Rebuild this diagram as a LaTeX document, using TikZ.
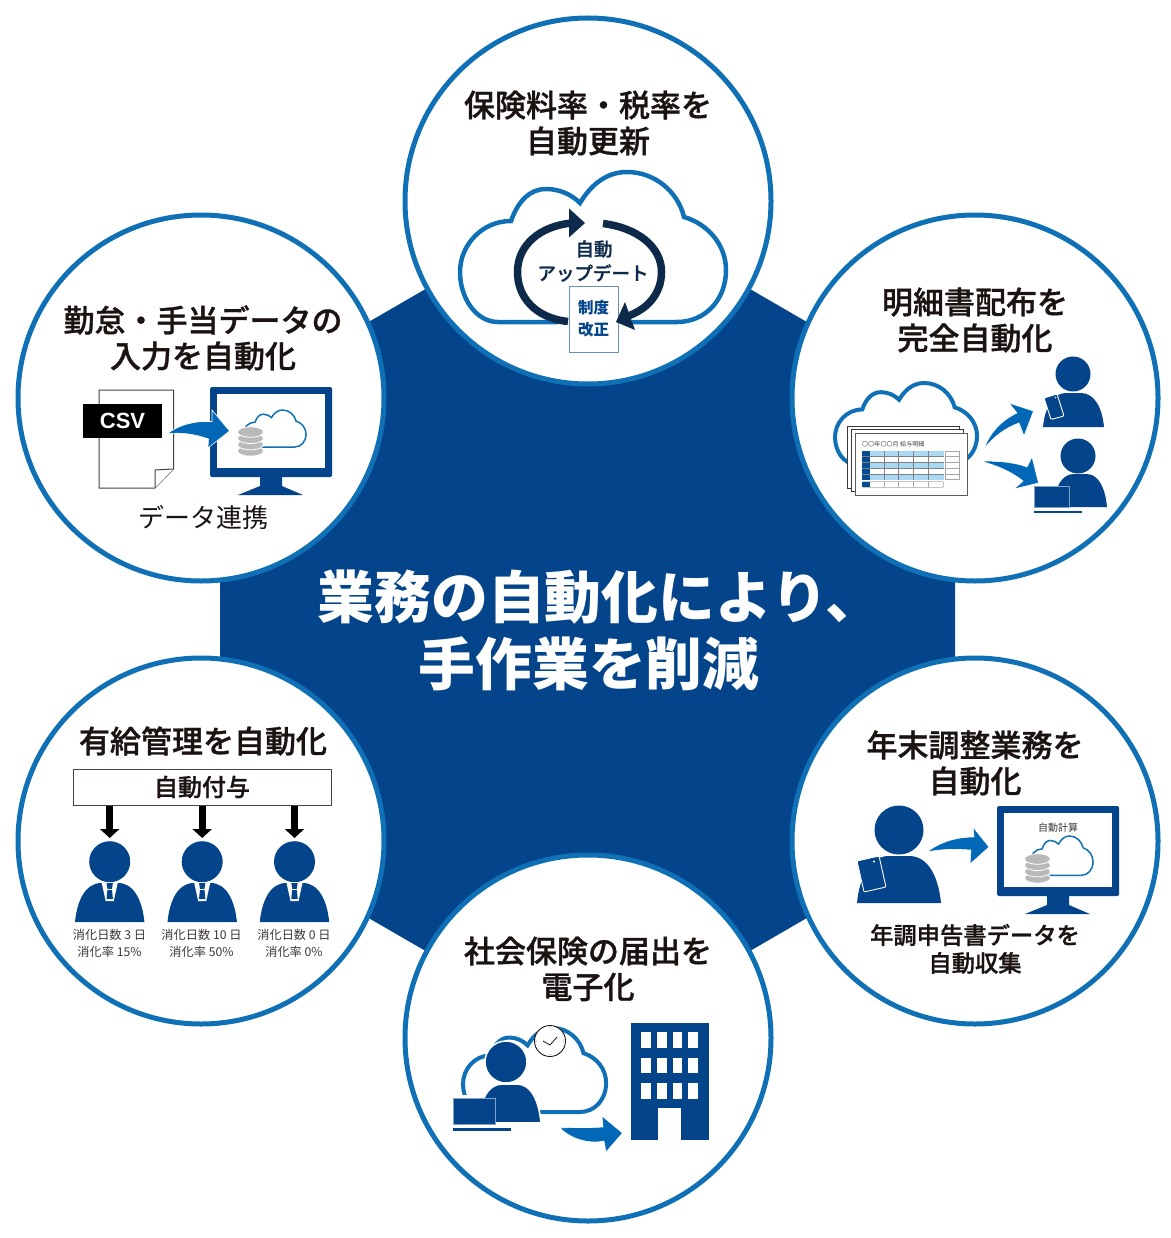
\documentclass[tikz,border=0pt]{standalone}
\usepackage{fontspec}
\setmainfont{Noto Sans CJK JP}
\newfontfamily\jpm[FakeBold=1]{Noto Sans CJK JP Medium}
\newfontfamily\csvfont{Liberation Sans}
\usetikzlibrary{arrows.meta}
\definecolor{hexblue}{HTML}{03448A}
\definecolor{ringblue}{HTML}{1070B6}
\definecolor{swblue}{HTML}{0068B7}
\definecolor{navy}{HTML}{0D2A4A}
\definecolor{ink}{HTML}{1A1311}
\definecolor{dbgray}{HTML}{B9B9B9}
\definecolor{lightcell}{HTML}{A9D9F5}
\newcommand\fs[1]{\fontsize{#1}{#1}\selectfont}
\tikzset{
  x=1pt,y=-1pt,
  ringc/.style={circle,draw=ringblue,line width=5pt,fill=white,minimum size=366pt,inner sep=0pt},
  title/.style={text=ink,align=center,font=\fs{31}\jpm,inner sep=0pt},
  hero/.style={text=white,align=center,font=\fs{56.8}\bfseries,inner sep=0pt},
  small/.style={text=ink!85,align=center,inner sep=0pt,font=\fs{12.2}},
  cloudline/.style={draw=ringblue,fill=white},
  swoosh/.style={fill=swblue,draw=white,line width=0.6pt,line join=miter},
  solidblue/.style={fill=hexblue,draw=none},
  halo/.style={fill=hexblue,draw=white,line width=1.6pt},
  phone/.style={fill=hexblue,draw=white,line width=0.9pt,rounded corners=1pt},
  downarrow/.style={draw=black,line width=7pt,-{Triangle[length=9pt,width=19pt]}},
}
% cloud: reference frame 266 x 150
\newcommand\cloudpath{(38,150) .. controls (16,150) and (0,126) .. (0,100) .. controls (0,73) and (22,49) .. (51,49) .. controls (58,29) and (70,17) .. (86,17) .. controls (100,17) and (112,23) .. (120,31) .. controls (132,11) and (148,0) .. (167,0) .. controls (195,0) and (218,20) .. (224,45) .. controls (248,52) and (266,73) .. (266,98) .. controls (266,128) and (245,150) .. (217,150) -- cycle}
\newcommand\cloudat[5]{\begin{scope}[shift={(#1,#2)},xscale=#3,yscale=#4]\draw[cloudline,line width=#5] \cloudpath;\end{scope}}
% body: reference frame 100 x 100
\newcommand\bodyat[5][solidblue]{\path[#1,shift={(#2,#3)},xscale=#4/100,yscale=#5/100] (0,100) .. controls (3,45) and (15,0) .. (38,0) -- (62,0) .. controls (85,0) and (97,45) .. (100,100) -- cycle;}
% monitor: left monitor frame
\newcommand\monitorat[2]{\begin{scope}[shift={(#1,#2)}]
  \fill[hexblue,rounded corners=1.5pt] (0,0) rectangle (122,90);
  \fill[white] (7,7) rectangle (115,81);
  \fill[hexblue] (50,90) -- (72,90) -- (72,99) -- (93,108) -- (28,108) -- (50,99) -- cycle;
\end{scope}}
% database
\newcommand\dbat[2]{\begin{scope}[shift={(#1,#2)}]
  \foreach \yy in {22.4,16.1,9.8,3.5}{
    \path[fill=dbgray,draw=white,line width=0.8pt] (0,\yy) -- (0,\yy+3) .. controls (4,\yy+8) and (21,\yy+8) .. (25,\yy+3) -- (25,\yy) .. controls (21,\yy-5) and (4,\yy-5) .. (0,\yy) -- cycle;
  }
\end{scope}}
% suited person
\newcommand\suit[1]{\begin{scope}[shift={(#1,0)}]
  \fill[hexblue] (0,861.7) circle[radius=20.5];
  \bodyat{-34.7}{883}{69.4}{39}
  \fill[white] (-8,883) -- (8,883) -- (4,901) -- (-4,901) -- cycle;
  \fill[hexblue] (-3.2,883) -- (3.2,883) -- (2.2,889) -- (3.2,899) -- (-3.2,899) -- (-2.2,889) -- cycle;
  \fill[white] (-3.2,889) rectangle (3.2,889.7);
\end{scope}}
\begin{document}
\begin{tikzpicture}
\useasboundingbox (0,0) rectangle (1170,1238);
% hexagon
\fill[hexblue] (588,195) -- (955,408) -- (955,832) -- (588,1045) -- (220,832) -- (220,408) -- cycle;
% rings
\node[ringc] (ctop) at (588,201) {};
\node[ringc] (cleft) at (201,398) {};
\node[ringc] (cright) at (975,398) {};
\node[ringc] (cll) at (201,841) {};
\node[ringc] (clr) at (975,841) {};
\node[ringc] (cbot) at (588,1038) {};
% centre text
\node[hero] (hero1) at (600,597) {業務の自動化により、};
\node[hero] (hero2) at (589,664) {手作業を削減};

% === top ===
\node[title] (t1a) at (588,105) {保険料率・税率を};
\node[title] (t1b) at (588,141) {自動更新};
\cloudat{460}{172}{1}{1}{4.5pt}
\draw[white,line width=11pt] (558,322) -- (632,322);
\draw[navy,line width=7.5pt] (568,321.5) .. controls (535,318) and (517.5,297) .. (517.5,272) .. controls (517.5,245) and (540,226) .. (572,223);
\fill[navy] (569,208.5) -- (585,223) -- (569,237.5) -- cycle;
\draw[navy,line width=7.5pt] (603,223.5) .. controls (638,228) and (661.5,247) .. (661.5,272) .. controls (661.5,293) and (648,310) .. (625,317);
\node[font=\fs{18.5}\jpm,text=navy,inner sep=0pt] (u1) at (594,249) {自動};
\node[font=\fs{18.5}\jpm,text=navy,inner sep=0pt] (u2) at (593,273) {アップデート};
\node[draw=hexblue!60,line width=1pt,fill=white,minimum width=49pt,minimum height=65pt,inner sep=0pt] (doc1) at (593.5,319.5) {};
\node[font=\fs{15.5}\bfseries,text=hexblue,inner sep=0pt] (d1) at (593.5,308) {制度};
\node[font=\fs{15.5}\bfseries,text=hexblue,inner sep=0pt] (d2) at (593.5,330) {改正};
\fill[navy] (625,302) -- (635,330) -- (616,322) -- cycle;

% === left ===
\node[title] (t2a) at (203,320) {勤怠・手当データの};
\node[title] (t2b) at (203,356) {入力を自動化};
\draw[ink!80,line width=1pt,fill=white] (99,390) -- (173.5,390) -- (173.5,469) -- (155,488) -- (99,488) -- cycle;
\draw[ink!80,line width=1pt,fill=white] (155,488) -- (155,470) -- (173.5,469);
\node[fill=black,text=white,font=\fs{22}\csvfont\bfseries,minimum width=79pt,minimum height=34pt,inner sep=0pt] (csv) at (122.5,420.5) {CSV};
\monitorat{210}{387}
\cloudat{243}{410}{0.237}{0.247}{1.5pt}
\dbat{238}{427}
\path[swoosh] (167,434) .. controls (180,424) and (195,421) .. (212,421.5) -- (212,410) -- (229.5,431) -- (208,448) -- (208.5,439) .. controls (195,434) and (180,432) .. (167,434) -- cycle;
\node[font=\fs{26},text=ink,inner sep=0pt] (dl) at (203,517) {データ連携};

% === right ===
\node[title] (t3a) at (975,302) {明細書配布を};
\node[title] (t3b) at (975,338) {完全自動化};
\cloudat{835}{383}{0.534}{0.54}{4pt}
\foreach \xa/\ya in {847/426,851/429.5}{
  \draw[ink!85,line width=1pt,fill=white] (\xa,\ya) rectangle ++(112.5,62);
}
\draw[ink!70,line width=1pt,fill=white] (855,433) rectangle (967,495);
\node[font=\fs{6.1},text=ink!80,inner sep=0pt,anchor=west] (ml) at (862,444) {〇〇年〇〇月 給与明細};
\foreach \yr in {451,462.4,473.8}{\fill[lightcell] (870,\yr) rectangle (944,\yr+5.7);}
\fill[hexblue!85!ringblue] (862,451) rectangle (870,479.5);
\foreach \xv in {884.3,898.7,913.3,928.3}{\draw[gray,line width=.5pt] (\xv,451) -- (\xv,479.5);}
\foreach \yv in {456.7,462.4,468.1,473.8}{\draw[gray,line width=.5pt] (862,\yv) -- (944,\yv);\draw[gray!70,line width=.5pt] (945.3,\yv) -- (959.3,\yv);}
\draw[gray!70,line width=.5pt] (945.3,451) rectangle (959.3,479.5);
\draw[gray!70,line width=.5pt,rounded corners=.8pt] (862,481.7) rectangle (943.5,487.3);
\fill[hexblue!85!ringblue] (862,481.7) rectangle (870,487.3);
\foreach \xv in {884.3,898.7,913.3,928.3}{\draw[gray!70,line width=.5pt] (\xv,481.7) -- (\xv,487.3);}
\path[swoosh] (984,449) .. controls (990,432) and (1002,420) .. (1017,413) -- (1009,403) -- (1033.5,411) -- (1024,436) -- (1019,423) .. controls (1005,428) and (993,437) .. (984,449) -- cycle;
\path[swoosh] (980,461) .. controls (998,461) and (1014,462) .. (1027,467) -- (1032,457) -- (1038.5,483) -- (1014,489) -- (1023,481) .. controls (1012,472) and (996,465) .. (980,461) -- cycle;
\fill[hexblue] (1073,374) circle[radius=17.5];
\bodyat{1043}{393}{61}{34}
\draw[phone] (1044,398) -- (1057,394) -- (1064,416) -- (1051,419.5) -- cycle;
\fill[white] (1055.5,397.5) circle[radius=.9];
\fill[hexblue] (1078,456) circle[radius=17.5];
\bodyat{1053}{474}{54}{33}
\draw[fill=hexblue,draw=hexblue!50!white,line width=.8pt] (1034,486) rectangle (1069,507);
\fill[hexblue] (1034,511) rectangle (1082,513.2);

% === lower right ===
\node[title] (t4a) at (975,745) {年末調整業務を};
\node[title] (t4b) at (975,781) {自動化};
\fill[hexblue] (899,830) circle[radius=24.5];
\bodyat{857}{856}{84}{47}
\draw[phone] (857,861) -- (879,856) -- (886,887) -- (864,892) -- cycle;
\fill[white] (874,861.5) circle[radius=1.2];
\path[swoosh] (927,852) .. controls (940,842) and (956,837) .. (974,837) -- (973,827) -- (989,847) -- (970,864) -- (971,850) .. controls (955,849) and (941,849) .. (927,852) -- cycle;
\monitorat{997}{806}
\cloudat{1030}{836}{0.237}{0.262}{1.5pt}
\dbat{1025}{854}
\node[font=\fs{10},text=ink!85,inner sep=0pt] (mc) at (1058,828) {自動計算};
\node[font=\fs{23.3}\jpm,text=ink,inner sep=0pt] (y1) at (975,935) {年調申告書データを};
\node[font=\fs{23.3}\jpm,text=ink,inner sep=0pt] (y2) at (975,963) {自動収集};

% === lower left ===
\node[title] (t5) at (203,741) {有給管理を自動化};
\node[draw=ink!80,line width=1pt,fill=white,minimum width=258pt,minimum height=36pt,inner sep=0pt,font=\fs{24}\jpm,text=ink] (auto) at (202,787) {自動付与};
\suit{109.7}
\suit{202.2}
\suit{294.5}
\coordinate (h1) at (109.7,838);
\coordinate (h2) at (202.2,838);
\coordinate (h3) at (294.5,838);
\draw[downarrow] (auto.south -| h1) -- (h1);
\draw[downarrow] (auto.south -| h2) -- (h2);
\draw[downarrow] (auto.south -| h3) -- (h3);
\node[small] (s1a) at (109.5,935) {消化日数 3 日};
\node[small] (s1b) at (109.5,952) {消化率 15\%};
\node[small] (s2a) at (201.5,935) {消化日数 10 日};
\node[small] (s2b) at (201.5,952) {消化率 50\%};
\node[small] (s3a) at (294,935) {消化日数 0 日};
\node[small] (s3b) at (294,952) {消化率 0\%};

% === bottom ===
\node[title] (t6a) at (588,951) {社会保険の届出を};
\node[title] (t6b) at (588,987) {電子化};
\cloudat{463}{1028}{0.538}{0.56}{4pt}
\fill[white] (450,1095) rectangle (480,1118);
\draw[fill=hexblue,draw=white,line width=1.5pt] (506,1062) circle[radius=21];
\bodyat[halo]{478}{1084}{63}{39}
\draw[fill=hexblue,draw=hexblue!50!white,line width=.8pt] (453,1098) rectangle (495,1124);
\fill[hexblue] (453,1127.5) rectangle (511,1131);
\node[circle,draw=ink,line width=.9pt,fill=white,minimum size=31pt,inner sep=0pt] (clock) at (550,1041) {};
\draw[ink,line width=.8pt,line join=round] (543,1041) -- (550,1045) -- (557,1037);
\foreach \aa in {0,90,180,270}{\fill[gray] (clock.center) ++(\aa:13.5) circle[radius=.5];}
\path[swoosh] (560,1128) .. controls (575,1127) and (590,1128) .. (603,1127) -- (602,1116) -- (622.5,1133) -- (606,1152) -- (604,1141) .. controls (590,1144) and (572,1140) .. (560,1128) -- cycle;
\fill[hexblue] (631,1023) rectangle (708.5,1140);
\foreach \xw in {641,657,672.5,688}{\foreach \yw in {1032,1057.5,1083}{\fill[white] (\xw,\yw) rectangle ++(9.7,15.5);}}
\fill[white] (658,1108) rectangle (681,1140);
\end{tikzpicture}
\end{document}
